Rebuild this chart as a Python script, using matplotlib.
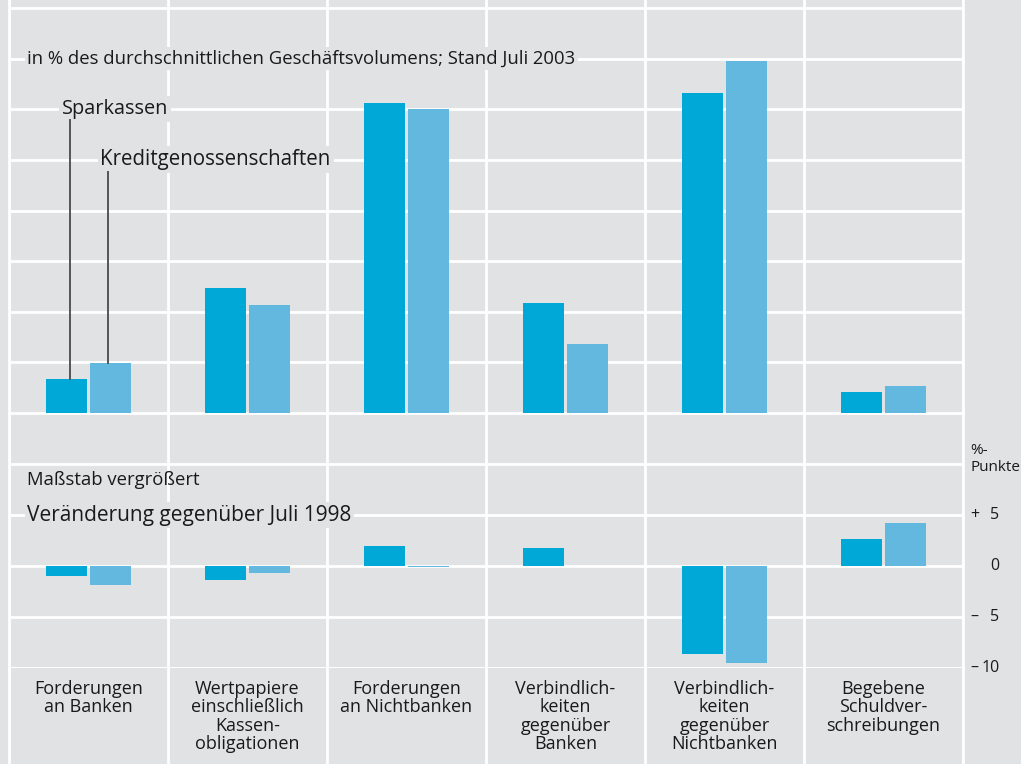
import matplotlib
matplotlib.use("Agg")
import matplotlib.pyplot as plt
import numpy as np

categories = ["Forderungen\nan Banken", "Wertpapiere\neinschließlich\nKassen-\nobligationen",
              "Forderungen\nan Nichtbanken", "Verbindlich-\nkeiten\ngegenüber\nBanken",
              "Verbindlich-\nkeiten\ngegenüber\nNichtbanken", "Begebene\nSchuldver-\nschreibungen"]
level_spk = [6.7, 24.7, 61.3, 21.7, 63.2, 4.2]
level_kg = [9.9, 21.3, 60.1, 13.6, 69.6, 5.3]
chg_spk = [-1.0, -1.4, 2.0, 1.8, -8.6, 2.6]
chg_kg = [-1.9, -0.7, -0.1, 0.0, -9.5, 4.2]
right_ticks = [5, 0, -5, -10]
right_signs = ["+", "", "–", "–"]
right_nums = ["5", "0", "5", "10"]

BG = "#e1e2e4"
C_SPK = "#00a8d8"
C_KG = "#62b8de"
GRID = "white"
TXT = "#1a1a1a"
plt.rcParams['font.family'] = ['Open Sans', 'DejaVu Sans']

W, H = 1021, 764
fig = plt.figure(figsize=(W / 100, H / 100), dpi=100, facecolor=BG)

x_left, x_right = 9, 963
def fx(px): return px / W
def fy(py): return 1 - py / H

n = len(categories)
x = np.arange(n)
xlim = (-0.5, n - 0.5)
bw = 0.26
off = 0.14
LW = 2.0

# top axes (pixel 0..413)
ax1 = fig.add_axes([fx(x_left), fy(413), fx(x_right - x_left), (413) / H])
ax1.set_facecolor(BG)
ax1.set_xlim(*xlim)
ax1.set_ylim(0, 80 * 413 / 405)
ax1.bar(x - off, level_spk, bw, color=C_SPK, zorder=3)
ax1.bar(x + off, level_kg, bw, color=C_KG, zorder=3)
ax1.set_yticks(np.arange(0, 81, 10))

# bottom axes (pixel 413..668)
ax2 = fig.add_axes([fx(x_left), fy(668), fx(x_right - x_left), (668 - 413) / H])
ax2.set_facecolor(BG)
ax2.set_xlim(*xlim)
ax2.set_ylim(-10, 15)
ax2.bar(x - off, chg_spk, bw, color=C_SPK, zorder=3)
ax2.bar(x + off, chg_kg, bw, color=C_KG, zorder=3)
ax2.set_yticks(np.arange(-10, 16, 5))
ax2.axhline(-10, color=GRID, lw=LW, zorder=1, clip_on=False)

# label axes (pixel 668..764)
ax3 = fig.add_axes([fx(x_left), 0, fx(x_right - x_left), (764 - 668) / H])
ax3.set_facecolor(BG)
ax3.set_xlim(*xlim)
ax3.set_ylim(0, 1)

for ax in (ax1, ax2, ax3):
    for s in ax.spines.values():
        s.set_visible(False)
    ax.tick_params(left=False, bottom=False, labelleft=False, labelbottom=False)
    ax.set_xticks(np.arange(-0.5, n, 1.0))
    ax.grid(axis='x', color=GRID, lw=LW, zorder=1)
for ax in (ax1, ax2):
    ax.grid(axis='y', color=GRID, lw=LW, zorder=1)
    ax.set_axisbelow(True)

for ax in (ax1, ax2, ax3):
    ax.axvline(-0.5, color=GRID, lw=LW, zorder=1, clip_on=False)
    ax.axvline(n - 0.5, color=GRID, lw=LW, zorder=1, clip_on=False)

# category labels
for i, c in enumerate(categories):
    ax3.text(i, 0.88, c, ha='center', va='top', fontsize=13, color=TXT, linespacing=1.04)

box = dict(facecolor=BG, edgecolor='none', pad=2)
ax1.text(-0.385, 70, "in % des durchschnittlichen Geschäftsvolumens; Stand Juli 2003",
         ha='left', va='center', fontsize=13.3, color=TXT, bbox=box, zorder=4)
ax1.text(-0.165, 60, "Sparkassen", ha='left', va='center', fontsize=14.3, color=TXT, bbox=box, zorder=4)
ax1.text(0.075, 50, "Kreditgenossenschaften", ha='left', va='center', fontsize=14.8,
         color=TXT, bbox=box, zorder=4)
ax1.plot([-off + 0.025, -off + 0.025], [57.8, level_spk[0]], color="#555555", lw=1.4, zorder=4)
ax1.plot([off - 0.015, off - 0.015], [47.6, level_kg[0]], color="#555555", lw=1.4, zorder=4)

ax2.text(-0.385, 8.4, "Maßstab vergrößert", ha='left', va='center', fontsize=13.3, color=TXT)
ax2.text(-0.385, 5, "Veränderung gegenüber Juli 1998", ha='left', va='center', fontsize=15,
         color=TXT, bbox=box, zorder=4)

# right-hand labels
ax2.text(n - 0.5 + 0.045, 10.5, "%-\nPunkte", ha='left', va='center', fontsize=11,
         color=TXT, linespacing=1.15, clip_on=False)
for t, sgn, num in zip(right_ticks, right_signs, right_nums):
    ax2.text(n - 0.5 + 0.045, t, sgn, ha='left', va='center', fontsize=11.5, color=TXT, clip_on=False)
    ax2.text(n - 0.5 + 0.23, t, num, ha='right', va='center', fontsize=11.5, color=TXT, clip_on=False)

fig.savefig("out.png", dpi=100, facecolor=BG)
